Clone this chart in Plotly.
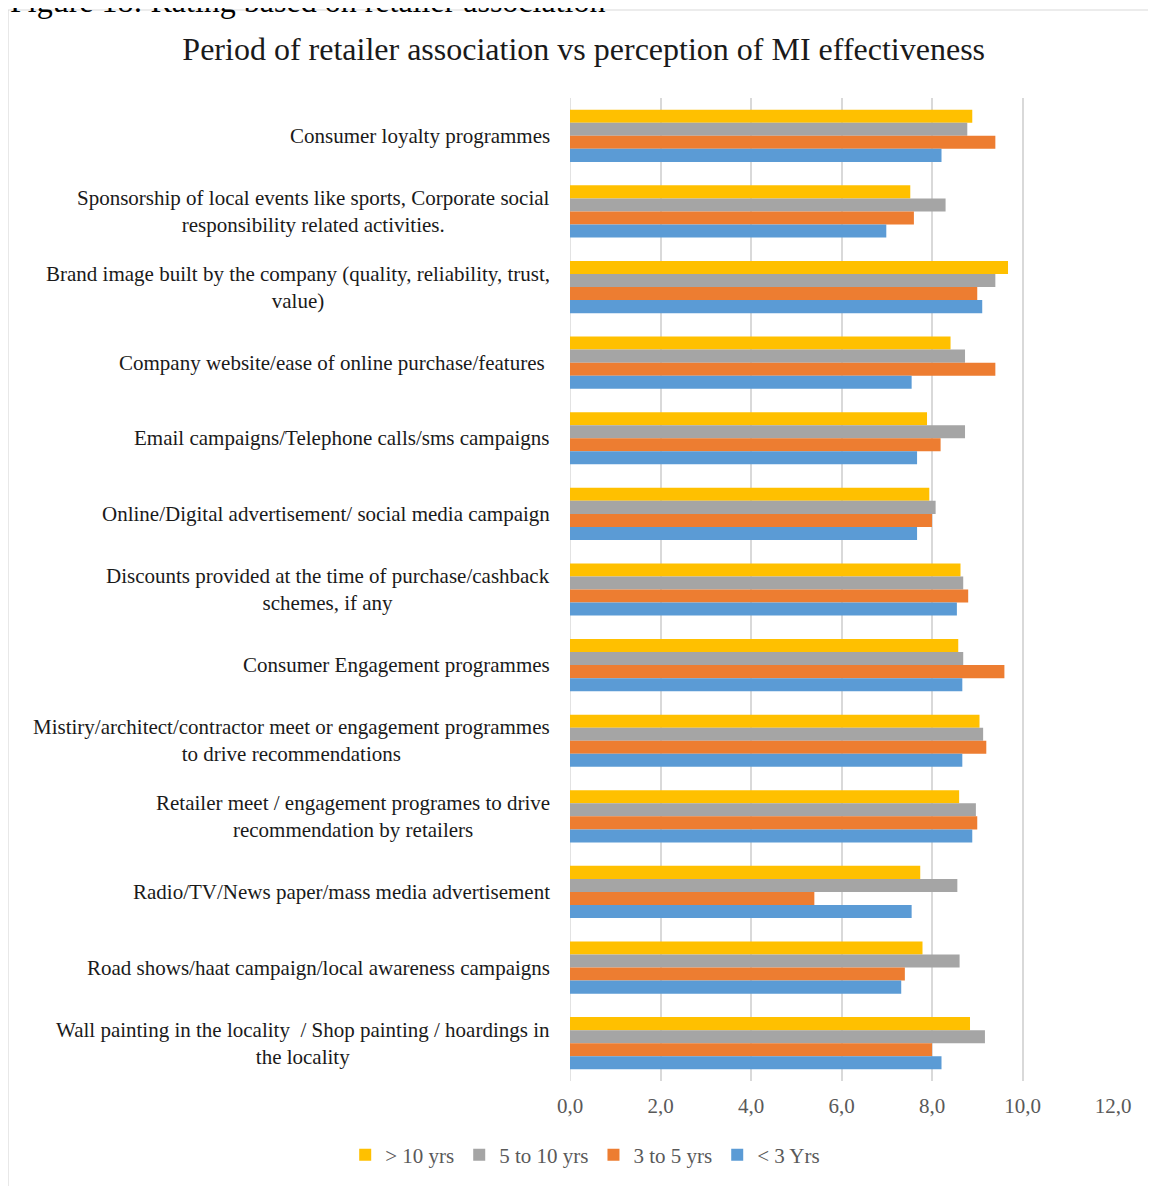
import plotly.graph_objects as go

categories = [
    "Consumer loyalty programmes",
    "Sponsorship of local events like sports, Corporate social<br>responsibility related activities.",
    "Brand image built by the company (quality, reliability, trust,<br>value)",
    "Company website/ease of online purchase/features ",
    "Email campaigns/Telephone calls/sms campaigns",
    "Online/Digital advertisement/ social media campaign",
    "Discounts provided at the time of purchase/cashback<br>schemes, if any",
    "Consumer Engagement programmes",
    "Mistiry/architect/contractor meet or engagement programmes<br>to drive recommendations",
    "Retailer meet / engagement programes to drive<br>recommendation by retailers",
    "Radio/TV/News paper/mass media advertisement",
    "Road shows/haat campaign/local awareness campaigns",
    "Wall painting in the locality  / Shop painting / hoardings in<br>the locality",
]

over_10 = [8.89, 7.52, 9.68, 8.41, 7.89, 7.94, 8.63, 8.58, 9.05, 8.60, 7.74, 7.79, 8.84]
y5_10 = [8.78, 8.30, 9.40, 8.73, 8.73, 8.08, 8.69, 8.69, 9.13, 8.97, 8.56, 8.61, 9.17]
y3_5 = [9.40, 7.60, 9.00, 9.40, 8.19, 8.00, 8.80, 9.60, 9.20, 9.00, 5.40, 7.40, 8.00]
under_3 = [8.21, 6.99, 9.11, 7.55, 7.67, 7.67, 8.55, 8.67, 8.67, 8.89, 7.55, 7.32, 8.21]

series = [
    ("> 10 yrs", over_10, "#FFC000"),
    ("5 to 10 yrs", y5_10, "#A5A5A5"),
    ("3 to 5 yrs", y3_5, "#ED7D31"),
    ("< 3 Yrs", under_3, "#5B9BD5"),
]

x_ticks = [0, 2, 4, 6, 8, 10, 12]

FONT = "Liberation Serif, Times New Roman, serif"

fig = go.Figure()
for name, vals, col in series:
    fig.add_trace(go.Bar(
        y=list(range(len(categories))), x=vals, name=name, orientation="h",
        marker=dict(color=col, line=dict(width=0)),
    ))

for i, c in enumerate(categories):
    fig.add_annotation(
        x=0, y=i, xref="x", yref="y", text=c, showarrow=False,
        xanchor="right", yanchor="middle", align="center", xshift=-18,
        font=dict(family=FONT, size=21, color="#1a1a1a"),
    )

# cropped caption above the chart box
fig.add_annotation(
    x=-1.035, xref="paper", y=1.0783, yref="paper",
    text="Figure 18: Rating based on retailer association", showarrow=False,
    xanchor="left", yanchor="bottom", font=dict(family=FONT, size=32, color="#000"),
)

# chart border
fig.add_shape(type="rect", xref="paper", yref="paper",
              x0=-1.035, x1=1.12, y0=-0.13, y1=1.0895,
              line=dict(color="#D9D9D9", width=1.2), fillcolor="rgba(0,0,0,0)", layer="below")

fig.update_layout(
    width=1156, height=1186,
    margin=dict(l=562, r=51, t=90, b=113),
    paper_bgcolor="white", plot_bgcolor="white",
    separators=",.",
    barmode="group", bargap=0.31, bargroupgap=0,
    title=dict(text="Period of retailer association vs perception of MI effectiveness",
               x=0.498, xref="container", xanchor="center", y=0.9654, yanchor="middle",
               font=dict(family=FONT, size=32, color="#1a1a1a")),
    xaxis=dict(range=[0, 12], tickvals=x_ticks, tickformat=".1f",
               showgrid=True, gridcolor="#D9D9D9", gridwidth=1.5,
               zeroline=False, showline=False, ticks="",
               tickfont=dict(family=FONT, size=21, color="#595959"), ticklabelstandoff=10),
    yaxis=dict(range=[len(categories) - 0.5, -0.5], showticklabels=False,
               showgrid=False, zeroline=False, showline=False, ticks=""),
    legend=dict(orientation="h", x=0.028, xref="paper", xanchor="center", y=-0.0753, yanchor="middle",
                font=dict(family=FONT, size=21, color="#595959"), traceorder="normal",
                itemwidth=30, entrywidthmode="pixels"),
    showlegend=True,
)
fig.add_shape(type="line", xref="x", yref="paper", x0=0, x1=0, y0=0, y1=1,
              line=dict(color="#D9D9D9", width=1.5), layer="below")

fig.write_html("out.html")
